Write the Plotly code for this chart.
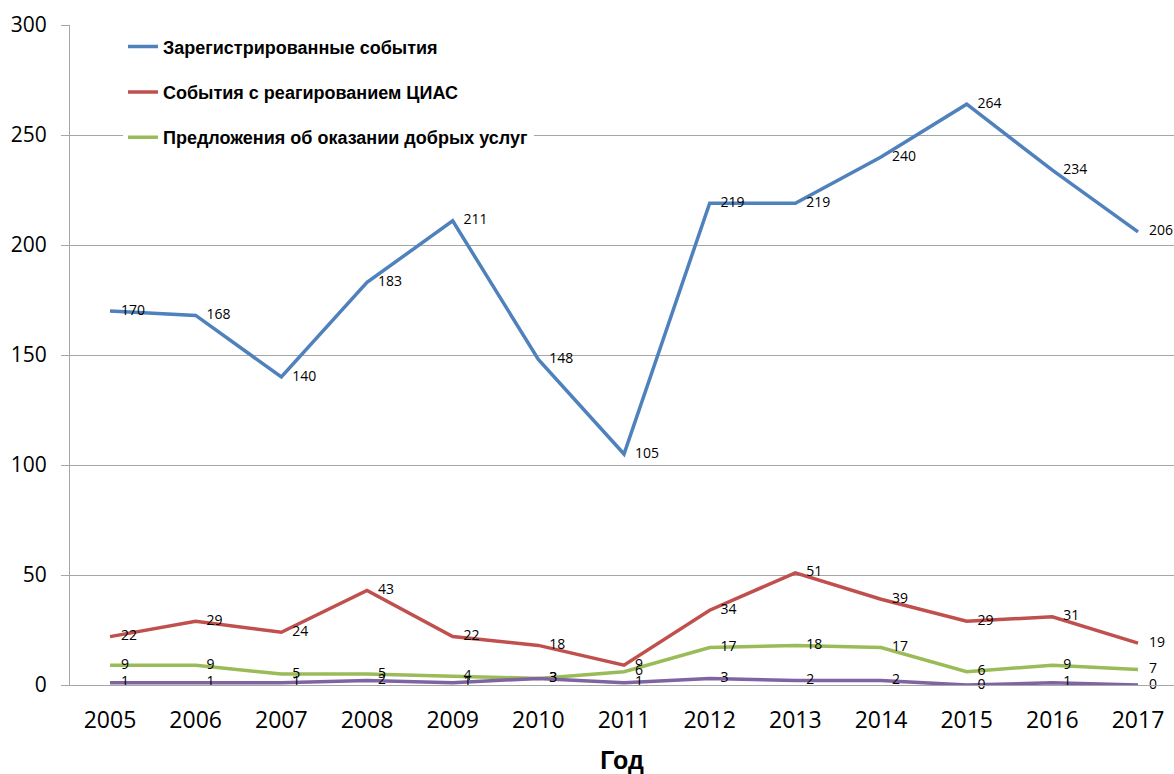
import plotly.graph_objects as go

years = ["2005", "2006", "2007", "2008", "2009", "2010", "2011", "2012", "2013", "2014", "2015", "2016", "2017"]
registered = [170, 168, 140, 183, 211, 148, 105, 219, 219, 240, 264, 234, 206]
ciac = [22, 29, 24, 43, 22, 18, 9, 34, 51, 39, 29, 31, 19]
good_offices = [9, 9, 5, 5, 4, 3, 6, 17, 18, 17, 6, 9, 7]
other = [1, 1, 1, 2, 1, 3, 1, 3, 2, 2, 0, 1, 0]

names = ["Зарегистрированные события", "События с реагированием ЦИАС",
         "Предложения об оказании добрых услуг", ""]
colors = ["#4F81BD", "#C0504D", "#9BBB59", "#8064A2"]
series = [registered, ciac, good_offices, other]

fig = go.Figure()
for i, (nm, col, vals) in enumerate(zip(names, colors, series)):
    fig.add_trace(go.Scatter(
        x=years, y=vals, name=nm, mode="lines+text",
        line=dict(color=col, width=3.5),
        text=[str(v) for v in vals],
        texttemplate="   %{text}",
        textposition="middle right",
        textfont=dict(family="Open Sans", size=14, color="#000000"),
        showlegend=(i < 3), legendgroup=str(i), cliponaxis=False,
    ))

fig.update_layout(
    width=1174, height=774,
    margin=dict(l=70, r=0, t=25, b=89),
    plot_bgcolor="white", paper_bgcolor="white",
    showlegend=True,
    legend=dict(
        x=0.048, y=0.995, xanchor="left", yanchor="top",
        bgcolor="white", traceorder="grouped", tracegroupgap=19,
        font=dict(family="Liberation Sans", size=18, color="#000000", weight="bold"),
    ),
    xaxis=dict(
        type="category", range=[-0.467, 12.42], automargin=False,
        showgrid=False, showline=True, linecolor="#A6A6A6", linewidth=1,
        ticks="", ticklabelstandoff=14,
        tickfont=dict(family="Open Sans", size=23, color="#000000"),
        title=dict(text="<b>Год</b>", font=dict(family="Liberation Sans", size=25, color="#000000"), standoff=20),
    ),
    yaxis=dict(
        range=[0, 300], dtick=50, showgrid=True, gridcolor="#A6A6A6", gridwidth=1,
        showline=True, linecolor="#A6A6A6", linewidth=1,
        ticks="outside", ticklen=8, tickcolor="#A6A6A6", ticklabelstandoff=10,
        tickfont=dict(family="Open Sans", size=21, color="#000000"),
        zeroline=False,
    ),
)

fig.write_html("out.html", config={"displayModeBar": False},
               post_script="document.body.style.margin='0';document.body.style.overflow='hidden';")
